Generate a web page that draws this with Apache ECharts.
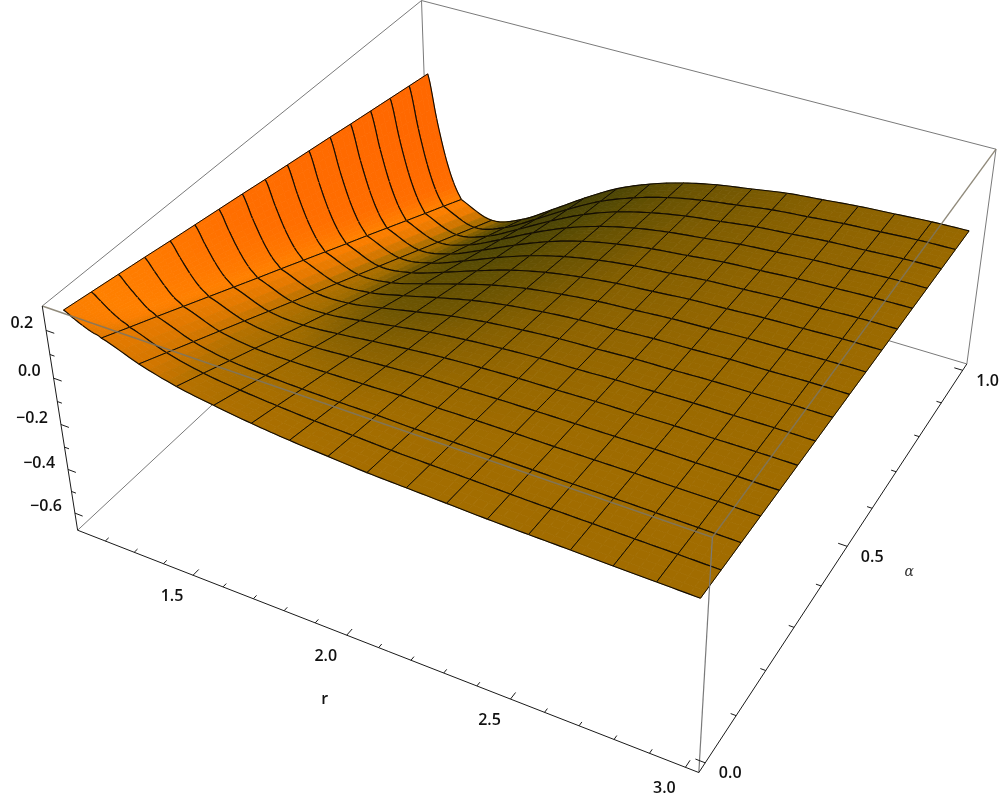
<!DOCTYPE html>
<html><head><meta charset="utf-8">
<style>html,body{margin:0;padding:0;background:#fff}#c{width:1000px;height:798px}</style>
<script src="https://cdn.jsdelivr.net/npm/echarts@6/dist/echarts.min.js"></script>
</head><body><div id="c"></div>
<script>
// ---------- data ----------
const rValues=[1.14,1.169,1.198,1.227,1.256,1.3725,1.489,1.605,1.721,1.8375,1.954,2.07,2.186,2.3025,2.419,2.535,2.651,2.7675,2.884,3.0];
const rMeshColumns=[0,4,5,6,7,8,9,10,11,12,13,14,15,16,17,18,19];
const alphaSamples=[0,0.0625,0.125,0.1875,0.25,0.3125,0.375,0.4375,0.5,0.5625,0.625,0.6875,0.75,0.8125,0.875,0.9375,1];
const zRow00=[.27,.25,.232,.217,.205,.15,.11,.085,.065,.05,.04,.03,.025,.02,.015,.012,.01,.007,.005,.003];
const zRow01=[.253,.226,.198,.175,.156,.101,.067,.049,.037,.028,.023,.017,.014,.011,.008,.006,.005,.003,.002,0];
const zRow02=[.236,.199,.163,.130,.108,.052,.023,.013,.008,.006,.006,.003,.003,.002,.001,0,0,-.001,-.002,-.003];
const zRow03=[.219,.172,.124,.085,.059,.003,-.020,-.023,-.020,-.016,-.011,-.01,-.008,-.007,-.007,-.006,-.005,-.006,-.005,-.006];
const zRow04=[.201,.142,.085,.040,.010,-.046,-.064,-.059,-.049,-.038,-.028,-.024,-.019,-.016,-.014,-.012,-.01,-.010,-.009,-.009];
const zRow05=[.184,.113,.046,-.005,-.039,-.096,-.107,-.095,-.077,-.060,-.046,-.037,-.03,-.026,-.021,-.019,-.015,-.014,-.012,-.012];
const zRow06=[.167,.084,.008,-.05,-.088,-.145,-.150,-.130,-.105,-.081,-.063,-.05,-.04,-.035,-.028,-.025,-.02,-.018,-.015,-.015];
const zRow07=[.15,.054,-.031,-.095,-.136,-.194,-.194,-.166,-.134,-.103,-.08,-.064,-.051,-.044,-.035,-.031,-.025,-.022,-.019,-.018];
const zRow08=[.132,.025,-.07,-.14,-.185,-.243,-.237,-.202,-.162,-.125,-.097,-.077,-.062,-.053,-.043,-.037,-.03,-.027,-.022,-.021];
const zRow09=[.115,-.005,-.109,-.185,-.234,-.292,-.281,-.238,-.191,-.147,-.114,-.091,-.073,-.062,-.05,-.043,-.035,-.031,-.026,-.024];
const zRow10=[.098,-.034,-.148,-.23,-.283,-.341,-.324,-.274,-.219,-.169,-.131,-.104,-.084,-.071,-.057,-.049,-.04,-.035,-.029,-.027];
const zRow11=[.081,-.063,-.186,-.275,-.331,-.39,-.367,-.31,-.247,-.191,-.148,-.117,-.095,-.08,-.064,-.055,-.045,-.039,-.032,-.03];
const zRow12=[.063,-.093,-.225,-.32,-.38,-.439,-.411,-.346,-.276,-.213,-.165,-.131,-.106,-.089,-.071,-.061,-.05,-.043,-.036,-.033];
const zRow13=[.046,-.122,-.264,-.365,-.429,-.488,-.454,-.382,-.304,-.235,-.182,-.144,-.117,-.098,-.079,-.067,-.055,-.048,-.039,-.036];
const zRow14=[.029,-.152,-.303,-.41,-.478,-.537,-.498,-.418,-.333,-.257,-.199,-.158,-.128,-.107,-.086,-.073,-.06,-.052,-.043,-.039];
const zRow15=[.012,-.181,-.341,-.455,-.526,-.586,-.541,-.454,-.361,-.278,-.217,-.171,-.139,-.116,-.093,-.079,-.065,-.056,-.046,-.042];
const zRow16=[-.005,-.21,-.38,-.5,-.575,-.635,-.585,-.49,-.39,-.30,-.234,-.185,-.15,-.125,-.10,-.085,-.07,-.06,-.05,-.045];
const zRows=[zRow00,zRow01,zRow02,zRow03,zRow04,zRow05,zRow06,zRow07,zRow08,zRow09,zRow10,zRow11,zRow12,zRow13,zRow14,zRow15,zRow16];
const rTickLabels=['1.5','2.0','2.5','3.0'];
const rMajor=[1.5,2.0,2.5,3.0];
const rMinor=[1.2,1.3,1.4,1.6,1.7,1.8,1.9,2.1,2.2,2.3,2.4,2.6,2.7,2.8,2.9];
const zMajor=[0.2,0,-0.2,-0.4,-0.6];
const zTickLabels=['0.2','0.0','\u22120.2','\u22120.4','\u22120.6'];
const zMinor=[0.1,-0.1,-0.3,-0.5];
const aMajor=[0,0.5,1];
const aTickLabels=['0.0','0.5','1.0'];
const aMinor=[0.1,0.2,0.3,0.4,0.6,0.7,0.8,0.9];

// ---------- box range and camera ----------
const R0=1.103,R1=3.037,A0=-0.02,A1=1.02,Z0=-0.68,Z1=0.30;
const camU=[0,1,1,0,0,1,1,0],camV=[0,0,1,1,0,0,1,1],camW=[0,0,0,0,1,1,1,1];
const camX=[78,699,967,428,42,712,996,422];
const camY=[530,773,363,204,306,537,150,0];
function solveCamera(){
  const A=[],b=[];
  for(let k=0;k<8;k++){
    const u=camU[k],v=camV[k],w=camW[k],x=camX[k],y=camY[k];
    A.push([u,v,w,1,0,0,0,0,-x*u,-x*v,-x*w]);b.push(x);
    A.push([0,0,0,0,u,v,w,1,-y*u,-y*v,-y*w]);b.push(y);
  }
  const n=11,M=[];
  for(let i=0;i<n;i++){const row=[];for(let j=0;j<n;j++){let s=0;for(let k=0;k<A.length;k++)s+=A[k][i]*A[k][j];row.push(s);}
    let s=0;for(let k=0;k<A.length;k++)s+=A[k][i]*b[k];row.push(s);M.push(row);}
  for(let i=0;i<n;i++){let p=i;for(let k=i+1;k<n;k++)if(Math.abs(M[k][i])>Math.abs(M[p][i]))p=k;
    [M[i],M[p]]=[M[p],M[i]];
    for(let k=0;k<n;k++){if(k===i)continue;const f=M[k][i]/M[i][i];for(let j=i;j<=n;j++)M[k][j]-=f*M[i][j];}}
  return M.map((r,i)=>r[n]/r[i]);
}
const P=solveCamera();
function projBox(u,v,w){const d=P[8]*u+P[9]*v+P[10]*w+1;
  return [(P[0]*u+P[1]*v+P[2]*w+P[3])/d,(P[4]*u+P[5]*v+P[6]*w+P[7])/d];}
const toU=r=>(r-R0)/(R1-R0),toV=a=>(a-A0)/(A1-A0),toW=z=>(z-Z0)/(Z1-Z0);
const proj=(r,a,z)=>projBox(toU(r),toV(a),toW(z));

// ---------- surface helpers ----------
const nc=rValues.length,nr=alphaSamples.length;
function catmull(p0,p1,p2,p3,t){const t2=t*t,t3=t2*t;
  return 0.5*(2*p1+(p2-p0)*t+(2*p0-5*p1+4*p2-p3)*t2+(3*p1-p0-3*p2+p3)*t3);}
function colAt(arr,c){return arr[Math.max(0,Math.min(nc-1,c))];}
function zAt(j,c,t){const row=zRows[j];
  return catmull(colAt(row,c-1),colAt(row,c),colAt(row,c+1),colAt(row,c+2),t);}
function rAt(c,t){return rValues[c]+(rValues[c+1]-rValues[c])*t;}
function slope(j,c){const a=Math.max(0,c-1),b=Math.min(nc-1,c+1);
  return -(zRows[j][b]-zRows[j][a])/(rValues[b]-rValues[a]);}
const ramp=[[-1.0,58,58,8],[-0.55,82,72,4],[-0.25,112,86,2],[0,160,108,0],[0.25,180,113,0],[0.45,225,121,0],[0.7,250,126,0],[1.0,255,128,0],[3,255,110,0],[6,255,104,0]];
function shade(s){
  if(s<=ramp[0][0])return ramp[0].slice(1);
  for(let k=1;k<ramp.length;k++){if(s<=ramp[k][0]){const a=ramp[k-1],b=ramp[k],t=(s-a[0])/(b[0]-a[0]);
    return [a[1]+(b[1]-a[1])*t,a[2]+(b[2]-a[2])*t,a[3]+(b[3]-a[3])*t];}}
  return ramp[ramp.length-1].slice(1);
}
const NU=4,NV=4;
function renderCell(params,api){
  const c=api.value(0),j=api.value(1);
  const children=[];
  const a0=alphaSamples[j],a1=alphaSamples[j+1];
  const pt=(tu,tv)=>{
    const z=zAt(j,c,tu)*(1-tv)+zAt(j+1,c,tu)*tv;
    return api.coord(proj(rAt(c,tu),a0+(a1-a0)*tv,z));
  };
  const sl=(tu,tv)=>{
    const s0=slope(j,c)*(1-tu)+slope(j,c+1)*tu,s1=slope(j+1,c)*(1-tu)+slope(j+1,c+1)*tu;
    return s0*(1-tv)+s1*tv;
  };
  for(let a=0;a<NU;a++)for(let b=0;b<NV;b++){
    const t0=a/NU,t1=(a+1)/NU,v0=b/NV,v1=(b+1)/NV;
    const col=shade(sl((t0+t1)/2,(v0+v1)/2)).map(Math.round);
    const fill='rgb('+col.join(',')+')';
    children.push({type:'polygon',shape:{points:[pt(t0,v0),pt(t1,v0),pt(t1,v1),pt(t0,v1)]},
      style:{fill:fill,stroke:fill,lineWidth:0.8}});
  }
  const line=(pts,w)=>({type:'polyline',shape:{points:pts},style:{fill:null,stroke:'#120c04',lineWidth:w}});
  const low=[],high=[];
  for(let a=0;a<=NU*2;a++){const t=a/(NU*2);low.push(pt(t,0));high.push(pt(t,1));}
  children.push(line(low,1.15),line(high,1.15));
  const lft=[],rgt=[];
  for(let b=0;b<=2;b++){lft.push(pt(0,b/2));rgt.push(pt(1,b/2));}
  if(rMeshColumns.indexOf(c)>=0)children.push(line(lft,1));
  if(rMeshColumns.indexOf(c+1)>=0)children.push(line(rgt,1));
  return {type:'group',children:children};
}
const cells=[];
for(let j=nr-2;j>=0;j--)for(let c=0;c<nc-1;c++)cells.push([c,j]);

// ---------- box, ticks, labels ----------
const corner=(u,v,w)=>projBox(u,v,w);
function segs(list,api,stroke,width){
  return list.map(s=>({type:'line',shape:{x1:api.coord(s[0])[0],y1:api.coord(s[0])[1],x2:api.coord(s[1])[0],y2:api.coord(s[1])[1]},
    style:{stroke:stroke,lineWidth:width}}));
}
function renderBack(p,api){
  const list=[[corner(0,0,1),corner(0,1,1)],[corner(0,1,1),corner(1,1,1)],[corner(0,1,1),corner(0,1,0)],
    [corner(0,0,0),corner(0,1,0)],[corner(0,1,0),corner(1,1,0)],[corner(1,1,0),corner(1,1,1)]];
  return {type:'group',children:segs(list,api,'#7a7a7a',1)};
}
function renderFront(p,api){
  const list=[[corner(0,0,1),corner(1,0,1)],[corner(1,0,1),corner(1,1,1)],[corner(1,0,1),corner(1,0,0)]];
  const kids=segs(list.slice(0,2),api,'rgba(125,118,100,0.85)',1.4).concat(segs(list.slice(2),api,'#7a7a7a',1.2));
  return {type:'group',children:kids};
}
const FONT='600 16px "Open Sans"';
function txt(api,pos,dx,dy,s,align,font,fill){const q=api.coord(pos);
  return {type:'text',style:{x:q[0]+dx,y:q[1]+dy,text:s,align:align,verticalAlign:'middle',font:font||FONT,fill:fill||'#111'}};}
function renderAxes(p,api){
  const kids=[];
  const ax=[[corner(0,0,1),corner(0,0,0)],[corner(0,0,0),corner(1,0,0)],[corner(1,0,0),corner(1,1,0)]];
  let t=ax.slice();
  zMajor.forEach(z=>{const w=toW(z);t.push([corner(0,0,w),corner(0.014,0,w)]);});
  zMinor.forEach(z=>{const w=toW(z);t.push([corner(0,0,w),corner(0.008,0,w)]);});
  rMajor.forEach(r=>{const u=toU(r);t.push([corner(u,0,0),corner(u,0.014,0)]);});
  rMinor.forEach(r=>{const u=toU(r);t.push([corner(u,0,0),corner(u,0.008,0)]);});
  aMajor.forEach(a=>{const v=toV(a);t.push([corner(1,v,0),corner(0.986,v,0)]);});
  aMinor.forEach(a=>{const v=toV(a);t.push([corner(1,v,0),corner(0.992,v,0)]);});
  kids.push(...segs(t,api,'#1a1a1a',1));
  zMajor.forEach((z,k)=>kids.push(txt(api,corner(0,0,toW(z)),-13,-6.5,zTickLabels[k],'right')));
  rMajor.forEach((r,k)=>kids.push(txt(api,corner(toU(r),0,0),-21,21,rTickLabels[k],'center')));
  aMajor.forEach((a,k)=>kids.push(txt(api,corner(1,toV(a),0),25,11,aTickLabels[k],'center')));
  kids.push(txt(api,corner(toU(2.0),0,0),-22,64,'r','center','600 16px "Open Sans"'));
  kids.push(txt(api,corner(1,toV(0.5),0),62,26,'\u03b1','center','italic 14px "DejaVu Serif"','#333'));
  return {type:'group',children:kids};
}
const one=[[0,0]];
const chart=echarts.init(document.getElementById('c'),null,{renderer:'canvas'});
chart.setOption({
  animation:false,
  backgroundColor:'#fff',
  grid:{left:0,right:0,top:0,bottom:0},
  xAxis:{type:'value',min:0,max:1000,show:false},
  yAxis:{type:'value',min:0,max:798,inverse:true,show:false},
  series:[
    {type:'custom',z:1,clip:false,silent:true,data:one,renderItem:renderBack},
    {type:'custom',z:2,clip:false,silent:true,data:cells,encode:{x:0,y:1},renderItem:renderCell},
    {type:'custom',z:3,clip:false,silent:true,data:one,renderItem:renderFront},
    {type:'custom',z:4,clip:false,silent:true,data:one,renderItem:renderAxes}
  ]
});
</script></body></html>
